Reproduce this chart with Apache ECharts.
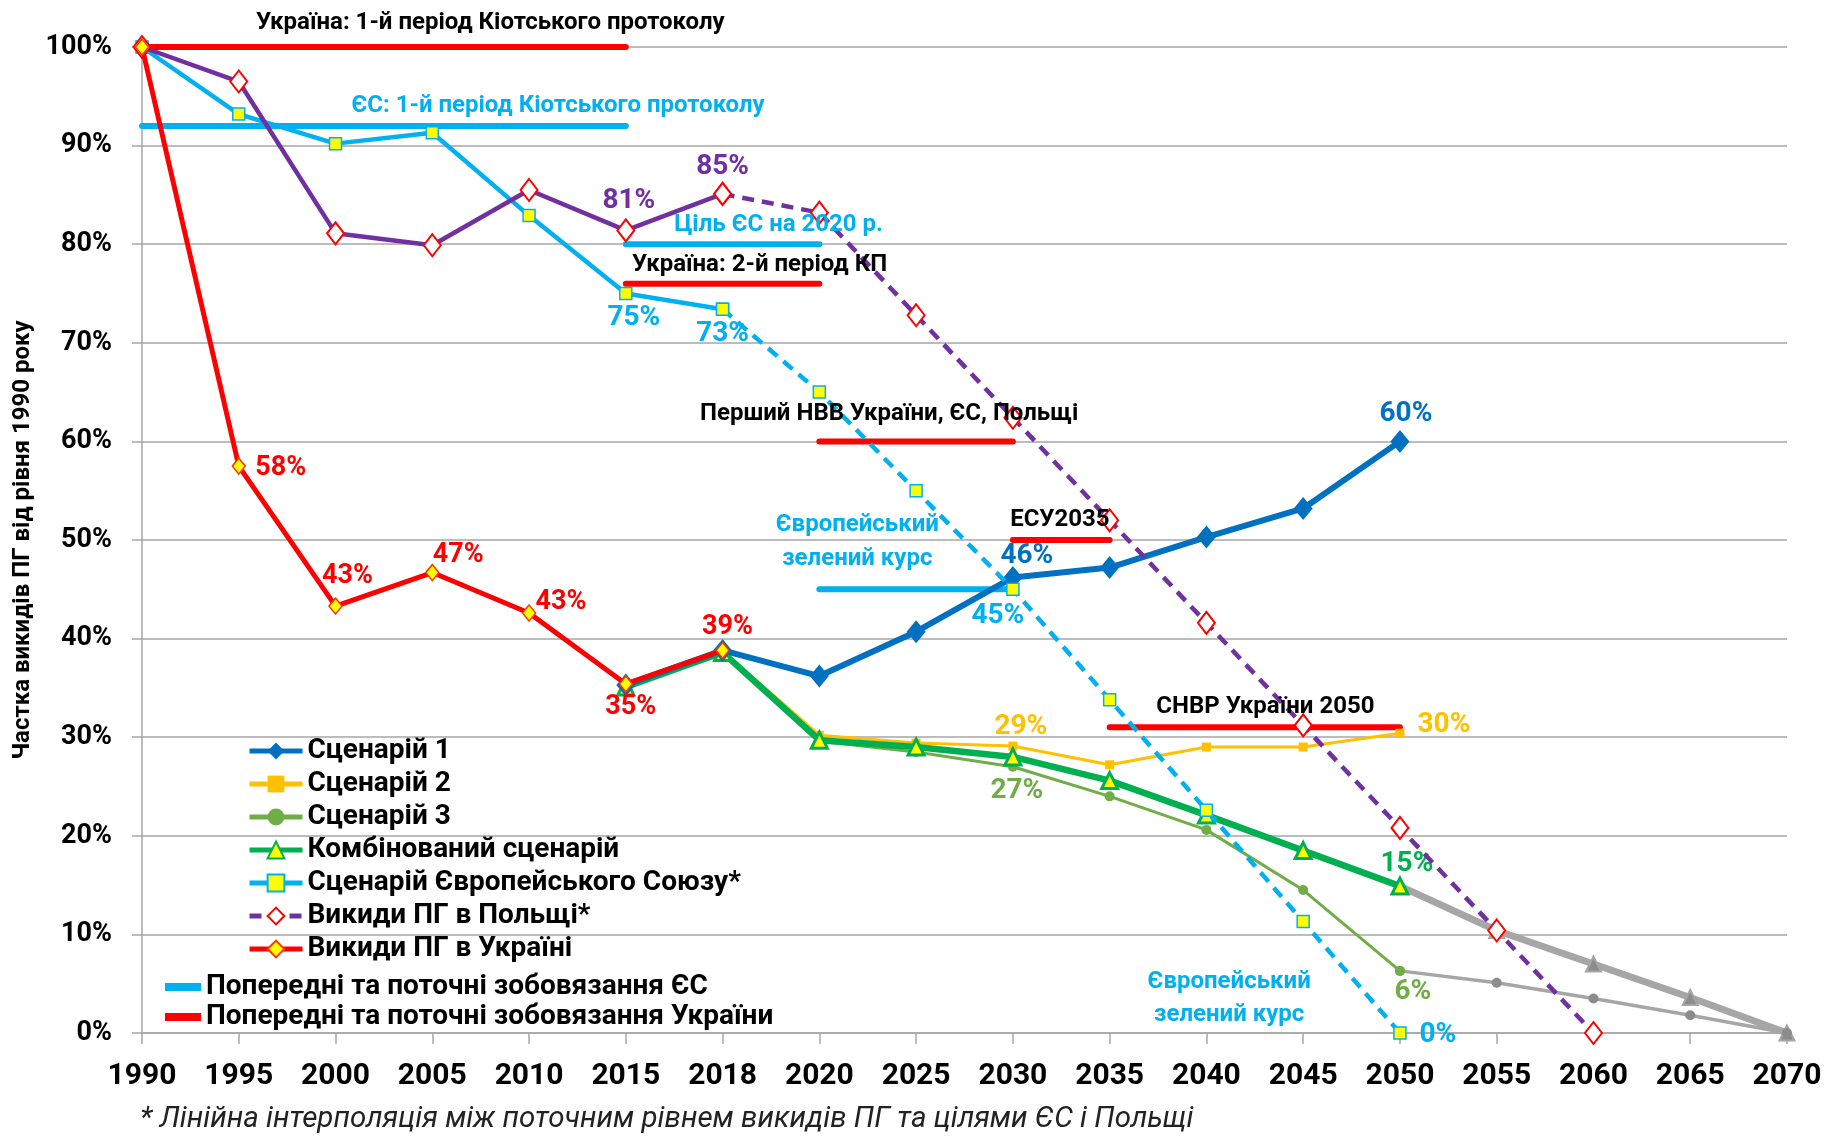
<!DOCTYPE html>
<html><head><meta charset="utf-8">
<script src="https://cdn.jsdelivr.net/npm/echarts@6/dist/echarts.min.js"></script>
<style>html,body{margin:0;padding:0;background:#fff}#c{width:1829px;height:1136px}</style>
</head><body><div id="c"></div>
<script>
// ---------- DATA ----------
const years = ['1990','1995','2000','2005','2010','2015','2018','2020','2025','2030','2035','2040','2045','2050','2055','2060','2065','2070'];
const yTicks = [0,10,20,30,40,50,60,70,80,90,100];

const ukraine     = [100, 57.5, 43.3, 46.7, 42.6, 35.4, 38.8, null, null, null, null, null, null, null, null, null, null, null];
const poland      = [100, 96.5, 81.1, 79.9, 85.5, 81.4, 85.1, 83.2, 72.8, 62.4, 52.0, 41.6, 31.2, 20.8, 10.4, 0, null, null];
const eu          = [100, 93.2, 90.2, 91.3, 82.9, 75.0, 73.4, 65.0, 55.0, 45.0, 33.8, 22.6, 11.3, 0, null, null, null, null];
const scen1       = [null, null, null, null, null, 35.3, 38.8, 36.2, 40.7, 46.2, 47.2, 50.3, 53.2, 60.0, null, null, null, null];
const scen2       = [null, null, null, null, null, 35.2, 38.7, 30.2, 29.4, 29.1, 27.2, 29.0, 29.0, 30.4, null, null, null, null];
const scen3       = [null, null, null, null, null, 35.1, 38.6, 29.6, 28.5, 27.0, 24.0, 20.6, 14.5, 6.3, null, null, null, null];
const combined    = [null, null, null, null, null, 35.1, 38.6, 29.7, 29.0, 28.0, 25.6, 22.1, 18.5, 14.9, null, null, null, null];
const combinedExt = [null, null, null, null, null, null, null, null, null, null, null, null, null, 14.9, 10.4, 7.0, 3.6, 0];
const scen3Ext    = [null, null, null, null, null, null, null, null, null, null, null, null, null, 6.3, 5.1, 3.5, 1.8, 0];
const projectionStart = '2018';

const euCommitFrom  = ['1990', '2015', '2020'];
const euCommitTo    = ['2015', '2020', '2030'];
const euCommitValue = [92, 80, 45];
const euCommitText  = ['ЄС: 1-й період Кіотського протоколу', 'Ціль ЄС на 2020 р.', 'Європейський\nзелений курс'];

const uaCommitFrom  = ['1990', '2015', '2020', '2030', '2035'];
const uaCommitTo    = ['2015', '2020', '2030', '2035', '2050'];
const uaCommitValue = [100, 76, 60, 50, 31];
const uaCommitText  = ['Україна: 1-й період Кіотського протоколу', 'Україна: 2-й період КП', 'Перший НВВ України, ЄС, Польщі', 'ЕСУ2035', 'СНВР України 2050'];

const egdNote = 'Європейський\nзелений курс';
const footnote = '* Лінійна інтерполяція між поточним рівнем викидів ПГ та цілями ЄС і Польщі';
const yAxisName = 'Частка викидів ПГ від рівня 1990 року';

const names = {
  s1: 'Сценарій 1', s2: 'Сценарій 2', s3: 'Сценарій 3', comb: 'Комбінований сценарій',
  eu: 'Сценарій Європейського Союзу*', pl: 'Викиди ПГ в Польщі*', ua: 'Викиди ПГ в Україні',
  euC: 'Попередні та поточні зобовязання ЄС', uaC: 'Попередні та поточні зобовязання України'
};

// ---------- STYLE / LAYOUT ----------
const FONT = 'Roboto';
const C = { s1:'#0070C0', s2:'#FFC000', s3:'#70AD47', comb:'#00B050', eu:'#00B0F0', pl:'#7030A0', ua:'#FF0000', gray:'#A6A6A6', grid:'#A6A6A6' };
const LBL = 28, CLBL = 24;

const idx = y => years.indexOf(y);
function part(arr, from, to) { const a = idx(from), b = idx(to); return arr.map((v, i) => (i >= a && i <= b) ? v : null); }
function labeled(vals, spec, color, size) {
  return vals.map((v, i) => {
    const o = spec[years[i]];
    if (v == null || !o) return v;
    return { value: v, label: { show: true, position: 'inside', offset: o, formatter: Math.round(v) + '%',
      color: color, fontSize: size, fontWeight: 'bold', fontFamily: FONT } };
  });
}
function commit(name, from, to, value, color) {
  const a = idx(from), b = idx(to);
  return { type: 'line', name: name, data: years.map((y, i) => (i < a || i > b) ? null : value),
    symbol: 'none', showSymbol: false, lineStyle: { color: color, width: 6, cap: 'round' }, itemStyle: { color: color }, z: 2, silent: true };
}
function noteItem(year, value, text, offset, color, lh) {
  return { value: [year, value], label: { show: true, position: 'inside', offset: offset, formatter: text,
    color: color, opacity: 1, fontSize: CLBL, fontWeight: 'bold', fontFamily: FONT, lineHeight: lh, align: 'center' } };
}

const euAnchors = [['2010', [29, -20]], ['2018', [56, -19]], ['2020', [38, -47]]];
const uaAnchors = [['2005', [58, -24]], ['2018', [37, -19]], ['2025', [-27, -27]], ['2030', [47, -20]], ['2040', [59, -20]]];

const series = [];
euCommitValue.forEach((v, k) => series.push(commit(names.euC, euCommitFrom[k], euCommitTo[k], v, C.eu)));
uaCommitValue.forEach((v, k) => series.push(commit(names.uaC, uaCommitFrom[k], uaCommitTo[k], v, C.ua)));

// gray extensions
series.push({ type: 'line', name: 'ext-comb', data: combinedExt, symbol: 'triangle', symbolSize: 15,
  lineStyle: { color: C.gray, width: 7 }, itemStyle: { color: '#8C8C8C', borderColor: C.gray, borderWidth: 2 }, z: 3 });
series.push({ type: 'line', name: 'ext-s3', data: scen3Ext, symbol: 'circle', symbolSize: 10,
  lineStyle: { color: C.gray, width: 3.5 }, itemStyle: { color: '#8C8C8C' }, z: 3 });

// scenarios
series.push({ type: 'line', name: names.s3, data: labeled(scen3, { '2030': [4, 24], '2050': [13, 21] }, C.s3, LBL),
  symbol: 'circle', symbolSize: 10, lineStyle: { color: C.s3, width: 3 }, itemStyle: { color: C.s3 }, z: 4 });
series.push({ type: 'line', name: names.s2, data: labeled(scen2, { '2030': [8, -19], '2050': [44, -8] }, C.s2, LBL),
  symbol: 'rect', symbolSize: 9, lineStyle: { color: C.s2, width: 3 }, itemStyle: { color: C.s2 }, z: 4 });
series.push({ type: 'line', name: names.comb, data: labeled(combined, { '2050': [7, -22] }, C.comb, LBL),
  symbol: 'triangle', symbolSize: 16, lineStyle: { color: C.comb, width: 6.5 }, itemStyle: { color: '#FFFF00', borderColor: C.comb, borderWidth: 3 }, z: 5 });
series.push({ type: 'line', name: names.s1, data: labeled(scen1, { '2030': [14, -21], '2050': [6, -27] }, C.s1, LBL),
  symbol: 'diamond', symbolSize: [19, 23], lineStyle: { color: C.s1, width: 6 }, itemStyle: { color: C.s1 }, z: 5 });

// EU scenario: solid history, dashed interpolation
const euSolid = labeled(part(eu, '1990', projectionStart), { '2015': [8, 24], '2018': [0, 25] }, C.eu, LBL);
const euDash = labeled(part(eu, projectionStart, '2050'), { '2030': [-15, 27], '2050': [38, 2] }, C.eu, LBL);
euDash[idx(projectionStart)] = eu[idx(projectionStart)];
series.push({ type: 'line', name: names.eu, data: euSolid, symbol: 'rect', symbolSize: 12,
  lineStyle: { color: C.eu, width: 4.5 }, itemStyle: { color: '#FFFF00', borderColor: C.eu, borderWidth: 1.5 }, z: 6 });
series.push({ type: 'line', name: names.eu, data: euDash, symbol: 'rect', symbolSize: 12,
  lineStyle: { color: C.eu, width: 4.5, type: [12, 8] }, itemStyle: { color: '#FFFF00', borderColor: C.eu, borderWidth: 1.5 }, z: 6 });

// Poland: dashed first (legend icon), then solid history
const plDash = part(poland, projectionStart, '2060');
series.push({ type: 'line', name: names.pl, data: plDash, symbol: 'diamond', symbolSize: [17, 22],
  lineStyle: { color: C.pl, width: 4.5, type: [12, 8] }, itemStyle: { color: '#FFFFFF', borderColor: '#FF0000', borderWidth: 2 }, z: 7 });
series.push({ type: 'line', name: names.pl, data: labeled(part(poland, '1990', projectionStart), { '2015': [3, -29], '2018': [0, -27] }, C.pl, LBL),
  symbol: 'diamond', symbolSize: [17, 22], lineStyle: { color: C.pl, width: 4.5 }, itemStyle: { color: '#FFFFFF', borderColor: '#FF0000', borderWidth: 2 }, z: 7 });

// Ukraine
series.push({ type: 'line', name: names.ua,
  data: labeled(ukraine, { '1995': [42, 2], '2000': [12, -30], '2005': [26, -17], '2010': [32, -11], '2015': [5, 23], '2018': [5, -23] }, C.ua, 27),
  symbol: 'diamond', symbolSize: [13, 16], lineStyle: { color: C.ua, width: 5 }, itemStyle: { color: '#FFFF00', borderColor: '#FF3300', borderWidth: 1.5 }, z: 8 });

// annotation text for commitments, drawn on top of all marks
const notes = [];
euCommitValue.forEach((v, k) => notes.push(noteItem(euAnchors[k][0], v, euCommitText[k], euAnchors[k][1], C.eu, 34)));
uaCommitValue.forEach((v, k) => notes.push(noteItem(uaAnchors[k][0], v, uaCommitText[k], uaAnchors[k][1], '#000', 28)));
notes.push(noteItem('2045', eu[idx('2045')], egdNote, [-74, 77], C.eu, 33));
series.push({ type: 'scatter', name: 'notes', data: notes, symbolSize: 1,
  itemStyle: { color: 'rgba(0,0,0,0)', opacity: 1 }, z: 20, silent: true });

series.forEach(s => { s.emphasis = { disabled: true }; if (s.type === 'line') s.connectNulls = false; s.animation = false; });

const chart = echarts.init(document.getElementById('c'), null, { renderer: 'canvas' });
chart.setOption({
  animation: false,
  backgroundColor: '#ffffff',
  textStyle: { fontFamily: FONT },
  grid: { left: 142, right: 42, top: 47, bottom: 103, containLabel: false, outerBoundsMode: 'none' },
  xAxis: {
    type: 'category', data: years, boundaryGap: false,
    axisLine: { lineStyle: { color: C.grid, width: 1.5 } },
    axisTick: { show: true, length: 11, lineStyle: { color: C.grid, width: 1.5 } },
    axisLabel: { color: '#000', fontSize: 30, fontWeight: 'bold', fontFamily: FONT, margin: 28, interval: 0 },
    splitLine: { show: false }
  },
  yAxis: {
    type: 'value', min: yTicks[0], max: yTicks[yTicks.length - 1], interval: yTicks[1] - yTicks[0],
    name: yAxisName, nameLocation: 'middle', nameGap: 106, nameRotate: 90,
    nameTextStyle: { color: '#000', fontSize: 24, fontWeight: 'bold', fontFamily: FONT },
    axisLine: { show: true, lineStyle: { color: C.grid, width: 1.5 } },
    axisTick: { show: true, length: 10, lineStyle: { color: C.grid, width: 1.5 } },
    axisLabel: { color: '#000', fontSize: 27, fontWeight: 'bold', fontFamily: FONT, margin: 30, formatter: '{value}%' },
    splitLine: { show: true, lineStyle: { color: C.grid, width: 1.5 } }
  },
  legend: [
    { orient: 'vertical', left: 247, top: 737, padding: 0, itemGap: 5, itemWidth: 53, itemHeight: 21,
      lineStyle: { width: 5 },
      data: [names.s1, names.s2, names.s3, names.comb, names.eu, names.pl, names.ua],
      textStyle: { color: '#000', fontSize: 28, fontWeight: 'bold', fontFamily: FONT, lineHeight: 28 }, selectedMode: false },
    { orient: 'vertical', left: 165, top: 973, padding: 0, itemGap: 2, itemWidth: 36, itemHeight: 8,
      data: [{ name: names.euC, icon: 'rect' }, { name: names.uaC, icon: 'rect' }],
      textStyle: { color: '#000', fontSize: 28, fontWeight: 'bold', fontFamily: FONT, lineHeight: 28 }, selectedMode: false }
  ],
  graphic: [
    { type: 'text', left: 140, top: 1105, style: { text: footnote, fill: '#222', font: 'italic 29.5px Roboto' } }
  ],
  series: series
});
</script></body></html>
